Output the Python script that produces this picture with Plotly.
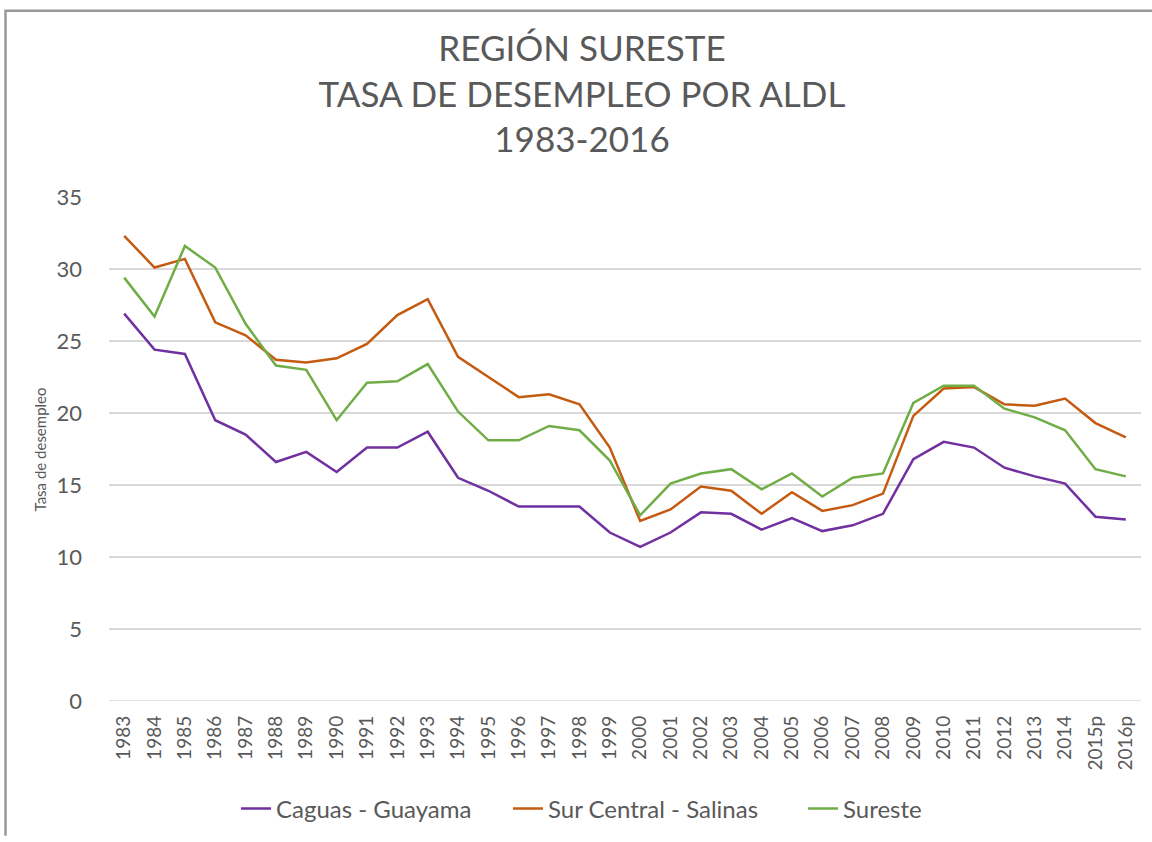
import plotly.graph_objects as go

# Years (2015 and 2016 are preliminary)
years = ["1983", "1984", "1985", "1986", "1987", "1988", "1989", "1990", "1991",
         "1992", "1993", "1994", "1995", "1996", "1997", "1998", "1999", "2000",
         "2001", "2002", "2003", "2004", "2005", "2006", "2007", "2008", "2009",
         "2010", "2011", "2012", "2013", "2014", "2015p", "2016p"]

# Unemployment rate (%) by local labour area
caguas_guayama = [26.9, 24.4, 24.1, 19.5, 18.5, 16.6, 17.3, 15.9, 17.6, 17.6,
                  18.7, 15.5, 14.6, 13.5, 13.5, 13.5, 11.7, 10.7, 11.7, 13.1,
                  13.0, 11.9, 12.7, 11.8, 12.2, 13.0, 16.8, 18.0, 17.6, 16.2,
                  15.6, 15.1, 12.8, 12.6]
sur_central_salinas = [32.3, 30.1, 30.7, 26.3, 25.4, 23.7, 23.5, 23.8, 24.8, 26.8,
                       27.9, 23.9, 22.5, 21.1, 21.3, 20.6, 17.6, 12.5, 13.3, 14.9,
                       14.6, 13.0, 14.5, 13.2, 13.6, 14.4, 19.8, 21.7, 21.8, 20.6,
                       20.5, 21.0, 19.3, 18.3]
sureste = [29.4, 26.7, 31.6, 30.1, 26.2, 23.3, 23.0, 19.5, 22.1, 22.2,
           23.4, 20.1, 18.1, 18.1, 19.1, 18.8, 16.7, 12.9, 15.1, 15.8,
           16.1, 14.7, 15.8, 14.2, 15.5, 15.8, 20.7, 21.9, 21.9, 20.3,
           19.7, 18.8, 16.1, 15.6]

series = [
    ("Caguas - Guayama", caguas_guayama, "#7030A0", 227),
    ("Sur Central - Salinas", sur_central_salinas, "#C55A11", 250),
    ("Sureste", sureste, "#70AD47", 90),
]

FONT = "Lato"
GREY = "#595959"

fig = go.Figure()
for name, vals, color, lw in series:
    fig.add_trace(go.Scatter(
        x=years, y=vals, name=name, mode="lines",
        line=dict(color=color, width=2.5), legendwidth=lw,
    ))

W, H = 1152, 842
L, R, T, B = 109, 11, 197, 136
pw, ph = W - L - R, H - T - B


def px_x(p):
    return (p - L) / pw


def px_y(p):
    return (H - B - p) / ph


fig.update_layout(
    width=W, height=H,
    margin=dict(l=L, r=R, t=T, b=B),
    paper_bgcolor="white", plot_bgcolor="white",
    font=dict(family=FONT, color=GREY),
    title=dict(
        text="REGIÓN SURESTE<br>TASA DE DESEMPLEO POR ALDL<br>1983-2016",
        x=582 / W, xanchor="center", xref="container",
        y=1 - 61 / H, yanchor="middle",
        font=dict(family=FONT, size=35, color=GREY),
    ),
    xaxis=dict(
        type="category", tickangle=-90, showgrid=False, showline=False,
        ticks="", tickfont=dict(size=19, color=GREY), zeroline=False,
        range=[-0.5, len(years) - 0.5], ticklabelstandoff=10,
    ),
    yaxis=dict(
        range=[0, 35], dtick=5, showgrid=True, gridcolor="#D9D9D9", gridwidth=1.5,
        zeroline=False, showline=False, ticks="",
        tickfont=dict(size=22, color=GREY), ticklabelstandoff=26,
    ),
    legend=dict(
        orientation="h", x=px_x(236), xanchor="left", y=px_y(815), yanchor="middle",
        font=dict(size=24, color=GREY), itemwidth=30, traceorder="normal",
    ),
    showlegend=True,
)

# Baseline at zero drawn like the gridlines
fig.add_shape(type="line", xref="paper", yref="y", x0=0, x1=1, y0=0, y1=0,
              line=dict(color="#D9D9D9", width=1.5), layer="below")

# Axis title
fig.add_annotation(
    text="Tasa de desempleo", textangle=-90, showarrow=False,
    xref="paper", yref="paper", x=px_x(40), y=px_y(452),
    xanchor="center", yanchor="middle",
    font=dict(family=FONT, size=15, color=GREY),
)

# Chart frame (open to the right and bottom)
fig.add_shape(type="path", xref="paper", yref="paper",
              path=(f"M {px_x(1152)},{px_y(9)} L {px_x(5.5)},{px_y(9)} "
                    f"L {px_x(5.5)},{px_y(842)}"),
              line=dict(color="#999999", width=2.5), layer="above")

fig.write_html("out.html", config={"displayModeBar": False})
